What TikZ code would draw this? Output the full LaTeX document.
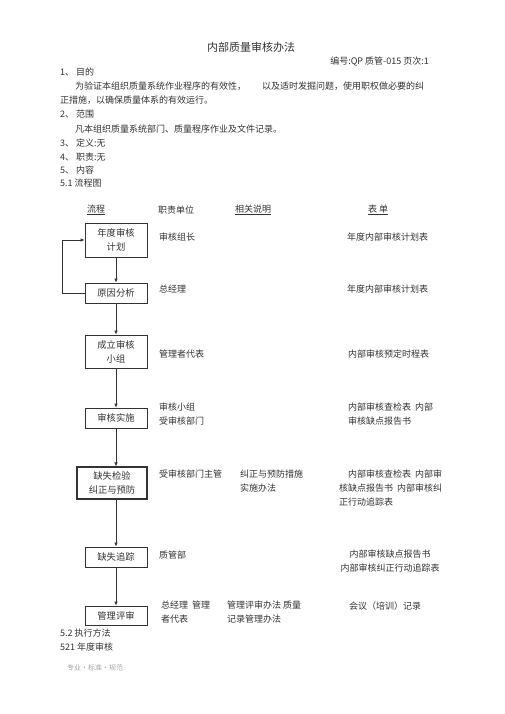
\documentclass[tikz,border=0pt]{standalone}
\usepackage{fontspec}
\setmainfont{Noto Sans CJK SC}
\usetikzlibrary{arrows.meta}
\definecolor{ink}{HTML}{333333}
\tikzset{
  txt/.style={anchor=west,inner sep=0pt,text=ink,font=\fontsize{9}{14}\selectfont,align=left},
  stepbox/.style={draw=ink,line width=0.7pt,text=ink,inner sep=1pt,minimum width=62pt,font=\fontsize{9.3}{14}\selectfont,align=center},
  arr/.style={draw=ink,line width=0.7pt,-{Latex[length=4pt,width=3.5pt]}}
}
\begin{document}
\begin{tikzpicture}[x=1pt,y=-1pt]
\fill[white] (0,0) rectangle (505,714);
\useasboundingbox (0,0) rectangle (505,714);
% header text
\node[txt,anchor=center,font=\fontsize{11}{13}\selectfont] (title) at (251,47) {内部质量审核办法};
\node[txt,anchor=east] (code) at (429,62) {编号:QP 质管-015 页次:1};
\node[txt] (s1) at (60,72) {1、 目的};
\node[txt] (p1a) at (75,86) {为验证本组织质量系统作业程序的有效性，};
\node[txt] (p1b) at (262,86) {以及适时发掘问题，使用职权做必要的纠};
\node[txt] (p1c) at (60,100) {正措施，以确保质量体系的有效运行。};
\node[txt] (s2) at (60,114) {2、 范围};
\node[txt] (p2) at (75,129) {凡本组织质量系统部门、质量程序作业及文件记录。};
\node[txt] (s3) at (60,143) {3、 定义:无};
\node[txt] (s4) at (60,157) {4、 职责:无};
\node[txt] (s5) at (60,170) {5、 内容};
\node[txt] (s51) at (60,183) {5.1 流程图};
% column headers
\node[txt] (h1) at (87,210) {\underline{流程}};
\node[txt] (h2) at (158,210) {职责单位};
\node[txt] (h3) at (235,210) {\underline{相关说明}};
\node[txt] (h4) at (368,210) {\underline{表\ 单}};
% flow boxes
\node[stepbox,minimum height=34pt] (b1) at (116,240) {年度审核\\计划};
\node[stepbox,minimum height=20pt] (b2) at (116,293) {原因分析};
\node[stepbox,minimum height=33pt] (b3) at (116,351.5) {成立审核\\小组};
\node[stepbox,minimum height=20pt] (b4) at (116,418) {审核实施};
\node[stepbox,minimum height=32pt,minimum width=70pt,line width=1.1pt] (b5) at (112,483) {缺失检验\\纠正与预防};
\node[stepbox,minimum height=20pt] (b6) at (116,557) {缺失追踪};
\node[stepbox,minimum height=19pt] (b7) at (116,615.5) {管理评审};
% connectors
\draw[arr] (b1.south) -- (b2.north);
\draw[arr] (b2.south) -- (b3.north);
\draw[arr] (b3.south) -- (b4.north);
\draw[arr] (b4.south) -- (b4.south |- b5.north);
\draw[arr] (b6.north |- b5.south) -- (b6.north);
\draw[arr] (b6.south) -- (b7.north);
\draw[arr] (b2.west) -- ++(-22,0) |- (b1.west);
% column 2
\node[txt] (r1) at (159,237) {审核组长};
\node[txt] (r2) at (159,289) {总经理};
\node[txt] (r3) at (159,354) {管理者代表};
\node[txt] (r4) at (159,414) {审核小组\\受审核部门};
\node[txt] (r5) at (159,474) {受审核部门主管};
\node[txt] (r6) at (159,555) {质管部};
\node[txt] (r7) at (161,612) {总经理\ \ 管理\\者代表};
% column 3
\node[txt] (d5) at (240,481) {纠正与预防措施\\实施办法};
\node[txt] (d7) at (227,612) {管理评审办法\ 质量\\记录管理办法};
% column 4
\node[txt] (f1) at (347,237) {年度内部审核计划表};
\node[txt] (f2) at (347,289) {年度内部审核计划表};
\node[txt] (f3) at (348,354) {内部审核预定时程表};
\node[txt] (f4) at (348,414) {内部审核查检表\ \ 内部\\审核缺点报告书};
\node[txt] (f5) at (339,488) {\hspace*{9pt}内部审核查检表\ \ 内部审\\核缺点报告书\ \ 内部审核纠\\正行动追踪表};
\node[txt,align=center,anchor=center] (f6) at (390,561) {内部审核缺点报告书\\内部审核纠正行动追踪表};
\node[txt] (f7) at (349,606) {会议（培训）记录};
% bottom
\node[txt] (s52) at (60,633) {5.2 执行方法};
\node[txt] (s521) at (60,647) {521 年度审核};
\node[txt,text=gray!70,font=\fontsize{7}{9}\selectfont] (foot) at (67,668) {专业・标准・规范};
\end{tikzpicture}
\end{document}
